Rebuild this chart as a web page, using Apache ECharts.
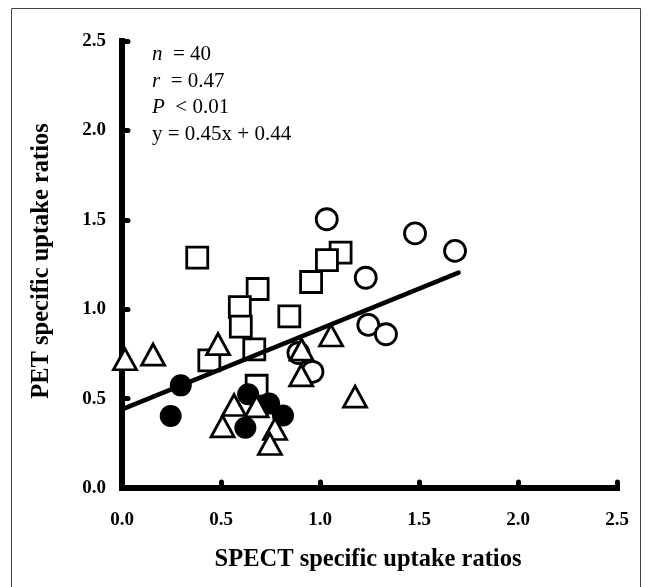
<!DOCTYPE html>
<html>
<head>
<meta charset="utf-8">
<script src="https://cdn.jsdelivr.net/npm/echarts@6/dist/echarts.min.js"></script>
<style>
html,body{margin:0;padding:0;background:#fff;}
#c{width:650px;height:587px;}
</style>
</head>
<body>
<div id="c"></div>
<script>
// ---- data ----
var xTicks = [0, 0.5, 1.0, 1.5, 2.0, 2.5];
var yTicks = [0, 0.5, 1.0, 1.5, 2.0, 2.5];

var squaresX = [0.38, 1.104, 1.035, 0.955, 0.685, 0.595, 0.60, 0.668, 0.845, 0.441, 0.68];
var squaresY = [1.288, 1.316, 1.275, 1.152, 1.113, 1.012, 0.902, 0.775, 0.96, 0.714, 0.572];

var openCirclesX = [1.034, 1.48, 1.682, 1.231, 1.244, 1.333, 0.891, 0.962];
var openCirclesY = [1.503, 1.424, 1.326, 1.176, 0.912, 0.86, 0.755, 0.65];

var filledCirclesX = [0.297, 0.246, 0.637, 0.743, 0.813, 0.623];
var filledCirclesY = [0.574, 0.403, 0.524, 0.472, 0.405, 0.337];

var trianglesX = [0.015, 0.157, 0.485, 0.907, 0.905, 1.056, 1.177, 0.566, 0.68, 0.508, 0.773, 0.747];
var trianglesY = [0.72, 0.746, 0.805, 0.774, 0.63, 0.853, 0.511, 0.464, 0.457, 0.345, 0.33, 0.246];

var fitSlope = 0.45;
var fitIntercept = 0.44;
var fitXRange = [0, 1.7];

function pairs(xs, ys){ return xs.map(function(x,i){ return [x, ys[i]]; }); }

var fitData = fitXRange.map(function(x){ return [x, fitSlope * x + fitIntercept]; });

var serif = '"Liberation Serif", "Times New Roman", serif';

var chart = echarts.init(document.getElementById('c'), null, {renderer:'canvas'});

var openStyle = {color:'#fff', borderColor:'#000', borderWidth:2.8, opacity:1};

chart.setOption({
  animation:false,
  backgroundColor:'#fff',
  grid:{left:122, right:33, top:41, bottom:99, containLabel:false},
  xAxis:{
    type:'value', min:0, max:2.5, interval:0.5,
    axisLine:{show:true, onZero:false, lineStyle:{color:'#000', width:6, cap:'square'}},
    axisTick:{show:true, inside:true, length:6, lineStyle:{color:'#000', width:5, cap:'round'}},
    axisLabel:{color:'#000', fontFamily:serif, fontWeight:'bold', fontSize:19, margin:23,
      formatter:function(v){ return v.toFixed(1); }},
    splitLine:{show:false}
  },
  yAxis:{
    type:'value', min:0, max:2.5, interval:0.5,
    axisLine:{show:true, onZero:false, lineStyle:{color:'#000', width:6, cap:'square'}},
    axisTick:{show:true, inside:true, length:6, lineStyle:{color:'#000', width:5, cap:'round'}},
    axisLabel:{color:'#000', fontFamily:serif, fontWeight:'bold', fontSize:19, margin:16,
      formatter:function(v){ return v.toFixed(1); }},
    splitLine:{show:false}
  },
  series:[
    {type:'scatter', name:'squares', data:pairs(squaresX, squaresY), symbol:'rect', symbolSize:21,
      itemStyle:openStyle, z:2},
    {type:'line', name:'fit', data:fitData, showSymbol:false, symbol:'none',
      lineStyle:{color:'#000', width:4.5, cap:'round', opacity:1}, z:3},
    {type:'scatter', name:'openCircles', data:pairs(openCirclesX, openCirclesY), symbol:'circle', symbolSize:21,
      itemStyle:openStyle, z:4},
    {type:'scatter', name:'filledCircles', data:pairs(filledCirclesX, filledCirclesY), symbol:'circle', symbolSize:22,
      itemStyle:{color:'#000', opacity:1}, z:5},
    {type:'scatter', name:'triangles', data:pairs(trianglesX, trianglesY), symbol:'triangle', symbolSize:[23,21],
      itemStyle:openStyle, z:6}
  ],
  graphic:[
    {type:'rect', shape:{x:11.5, y:8.5, width:629, height:600}, style:{fill:'none', stroke:'#444', lineWidth:1}, silent:true, z:-1},
    {type:'text', left:152, top:41, style:{
      text:'{i|n}  = 40\n{i|r}  = 0.47\n{i|P}  < 0.01\ny = 0.45x + 0.44',
      fill:'#000', font:'21px ' + serif, lineHeight:26.7,
      rich:{i:{fontStyle:'italic', fontFamily:serif, fontSize:21, fill:'#000', lineHeight:26.7}}
    }},
    {type:'text', x:368, y:560, style:{
      text:'SPECT specific uptake ratios', fill:'#000',
      font:'bold 24.5px ' + serif, align:'center', verticalAlign:'middle'
    }},
    {type:'text', x:42, y:261, rotation:Math.PI/2, style:{
      text:'PET specific uptake ratios', fill:'#000',
      font:'bold 24.5px ' + serif, align:'center', verticalAlign:'middle'
    }}
  ]
});
</script>
</body>
</html>
